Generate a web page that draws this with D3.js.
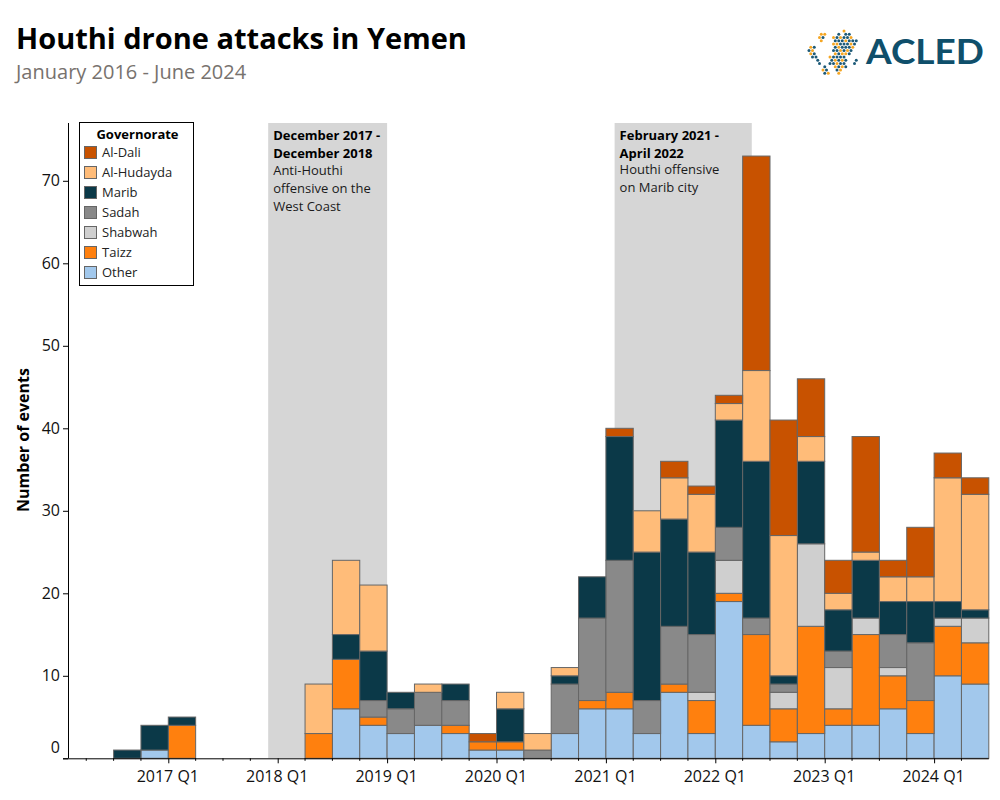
<!DOCTYPE html>
<html>
<head>
<meta charset="utf-8">
<script src="https://cdn.jsdelivr.net/npm/d3@7"></script>
<style>
  body { margin: 0; background: #fff; font-family: "Open Sans", sans-serif; }
  svg { display: block; }
  .domain { stroke: #000; }
</style>
</head>
<body>
<div id="chart"></div>
<script>
// quarter index: 0 = 2016 Q1
const quarters = d3.range(0, 34);
const tickLabels = ['2017 Q1', '2018 Q1', '2019 Q1', '2020 Q1', '2021 Q1', '2022 Q1', '2023 Q1', '2024 Q1'];
const tickQuarters = [4, 8, 12, 16, 20, 24, 28, 32];

// bottom of the stack first
const keys = ['Other', 'Taizz', 'Shabwah', 'Sadah', 'Marib', 'Al-Hudayda', 'Al-Dali'];
const legendOrder = ['Al-Dali', 'Al-Hudayda', 'Marib', 'Sadah', 'Shabwah', 'Taizz', 'Other'];
const colors = ['#a2c8ec', '#ff800e', '#cfcfcf', '#898989', '#0b3948', '#ffbc79', '#c85200'];

const other     = [0,0,0,1,0,0,0,0,0,0,6,4,3,4,3,1,1,0,3,6,6,3,8,3,19,4,2,3,4,4,6,3,10,9];
const taizz     = [0,0,0,0,4,0,0,0,0,3,6,1,0,0,1,1,1,0,0,1,2,0,1,4,1,11,4,13,2,11,4,4,6,5];
const shabwah   = [0,0,0,0,0,0,0,0,0,0,0,0,0,0,0,0,0,0,0,0,0,0,0,1,4,0,2,10,5,2,1,0,1,3];
const sadah     = [0,0,0,0,0,0,0,0,0,0,0,2,3,4,3,0,0,1,6,10,16,4,7,7,4,2,1,0,2,0,4,7,0,0];
const marib     = [0,0,1,3,1,0,0,0,0,0,3,6,2,0,2,0,4,0,1,5,15,18,13,10,13,19,1,10,5,7,4,5,2,1];
const hudayda   = [0,0,0,0,0,0,0,0,0,6,9,8,0,1,0,0,2,2,1,0,0,5,5,7,2,11,17,3,2,1,3,3,15,14];
const dali      = [0,0,0,0,0,0,0,0,0,0,0,0,0,0,0,1,0,0,0,0,1,0,2,1,1,26,14,7,4,14,2,6,3,2];
const seriesValues = [other, taizz, shabwah, sadah, marib, hudayda, dali];

// shaded periods, as [year, month] of first month and of month after the last one
const periodStart = [[2017, 12], [2021, 2]];
const periodEnd = [[2019, 1], [2022, 5]];
const periodTitle = [['December 2017 -', 'December 2018'], ['February 2021 -', 'April 2022']];
const periodText = [['Anti-Houthi', 'offensive on the', 'West Coast'], ['Houthi offensive', 'on Marib city']];

const yTicks = [0, 10, 20, 30, 40, 50, 60, 70];

// logo dots, b dark, o orange
const logoRows = [
	'..........o...',
	'...oo...b.bb..',
	'...ob..obobbo.',
	'...o...bbbobbb',
	'.......oobbbob',
	'ob.....bobbbo.',
	'bo.....bbobob.',
	'ob.....oboob..',
	'.bb...obbbb...',
	'..b...bobob..b',
	'...b..bbobb..b',
	'....b..obob...',
	'....ob..bo....',
	'....bo..o.....',
];

const width = 1000, height = 800;
const svg = d3.select('#chart').append('svg').attr('width', width).attr('height', height);

const x = d3.scaleLinear().domain([0, 34]).range([58.9, 988.8]);
const y = d3.scaleLinear().domain([0, 70]).range([758.3, 180.8]);
const plotTop = 123;

function monthPos(d) {
	return (d[0] - 2016) * 4 + (d[1] - 1) / 3;
}

// title
svg.append('text').attr('x', 16).attr('y', 49)
	.attr('font-size', 29).attr('font-weight', 700).attr('fill', '#000')
	.text('Houthi drone attacks in Yemen');
svg.append('text').attr('x', 16).attr('y', 79)
	.attr('font-size', 20).attr('fill', '#77726e')
	.text('January 2016 - June 2024');

// shaded periods
periodStart.forEach((s, i) => {
	const x0 = x(monthPos(s)) - 0.4, x1 = x(monthPos(periodEnd[i]));
	svg.append('rect').attr('x', x0).attr('y', plotTop)
		.attr('width', x1 - x0).attr('height', y(0) - plotTop)
		.attr('fill', '#d6d6d6');
	const label = svg.append('text').attr('font-size', 13).attr('fill', '#1a1a1a');
	periodTitle[i].forEach((t, j) => {
		label.append('tspan').attr('x', x0 + 5).attr('y', 140 + j * 18 - i * 0.5)
			.attr('font-weight', 700).attr('fill', '#000').text(t);
	});
	periodText[i].forEach((t, j) => {
		label.append('tspan').attr('x', x0 + 5).attr('y', 175 + j * 18 - i * 1).text(t);
	});
});

// bars
const table = quarters.map((q) => {
	const row = {q: q};
	keys.forEach((k, i) => { row[k] = seriesValues[i][q]; });
	return row;
});
const stacked = d3.stack().keys(keys)(table);
svg.append('g').selectAll('g').data(stacked).join('g')
	.attr('fill', (d, i) => colors[i])
	.selectAll('rect').data((d) => d.filter((s) => s[1] > s[0])).join('rect')
	.attr('x', (d) => x(d.data.q))
	.attr('width', x(1) - x(0))
	.attr('y', (d) => y(d[1]))
	.attr('height', (d) => y(d[0]) - y(d[1]))
	.attr('stroke', '#666')
	.attr('stroke-width', 1);

// axes
const xAxis = d3.axisBottom(x).tickValues(tickQuarters).tickSize(5)
	.tickFormat((d, i) => tickLabels[i]);
const gx = svg.append('g').attr('transform', `translate(0,${y(0)})`).call(xAxis);
gx.select('.domain').attr('d', `M63,0.5H${x(34)}`);
gx.selectAll('text').attr('font-family', '"Open Sans", sans-serif').attr('font-size', 16)
	.attr('fill', '#111').attr('dy', 0).attr('y', 23.5).attr('dx', -1);
gx.selectAll('line').attr('stroke', '#000');
// minor ticks
gx.append('g').selectAll('line').data(quarters.filter((q) => q > 0 && q % 4 !== 0)).join('line')
	.attr('x1', (d) => x(d)).attr('x2', (d) => x(d))
	.attr('y1', 0).attr('y2', 2.5).attr('stroke', '#000');

const yAxis = d3.axisLeft(y).tickValues(yTicks).tickSize(5);
const gy = svg.append('g').attr('transform', 'translate(68,0)').call(yAxis);
gy.select('.domain').attr('d', `M0.5,${plotTop}V${y(0)}`);
gy.selectAll('line').attr('stroke', '#000');
gy.selectAll('text').attr('font-family', '"Open Sans", sans-serif').attr('font-size', 16)
	.attr('fill', '#111').attr('x', -8)
	.attr('dy', (d) => d === 0 ? '-0.36em' : '0.32em');

svg.append('text')
	.attr('transform', 'translate(29,440) rotate(-90)')
	.attr('text-anchor', 'middle').attr('font-size', 16).attr('font-weight', 700)
	.attr('fill', '#000').text('Number of events');

// legend
const legend = svg.append('g').attr('transform', 'translate(79.5,122.5)');
legend.append('rect').attr('width', 114).attr('height', 163)
	.attr('fill', '#fff').attr('stroke', '#000').attr('stroke-width', 1);
legend.append('text').attr('x', 58).attr('y', 16.5).attr('text-anchor', 'middle')
	.attr('font-size', 13).attr('font-weight', 700).attr('fill', '#000').text('Governorate');
legendOrder.forEach((k, i) => {
	const row = legend.append('g').attr('transform', `translate(5,${24 + i * 20})`);
	row.append('rect').attr('width', 12).attr('height', 12)
		.attr('fill', colors[keys.indexOf(k)]).attr('stroke', '#666');
	row.append('text').attr('x', 17.5).attr('y', 10.5).attr('font-size', 13).attr('fill', '#222').text(k);
});

// logo
const logo = svg.append('g').attr('transform', 'translate(809,31)');
logoRows.forEach((r, j) => {
	r.split('').forEach((c, i) => {
		if (c === '.') return;
		logo.append('circle').attr('cx', i * 3.5 + (j % 2) * 1.75).attr('cy', j * 3.25)
			.attr('r', 1.5).attr('fill', c === 'b' ? '#1d5a78' : '#f5a623');
	});
});
svg.append('text').attr('x', 866).attr('y', 63.5)
	.attr('font-family', 'Lato, sans-serif').attr('font-size', 35).attr('font-weight', 700)
	.attr('fill', '#0f4f6b').attr('textLength', 118).attr('lengthAdjust', 'spacingAndGlyphs').text('ACLED');
</script>
</body>
</html>
